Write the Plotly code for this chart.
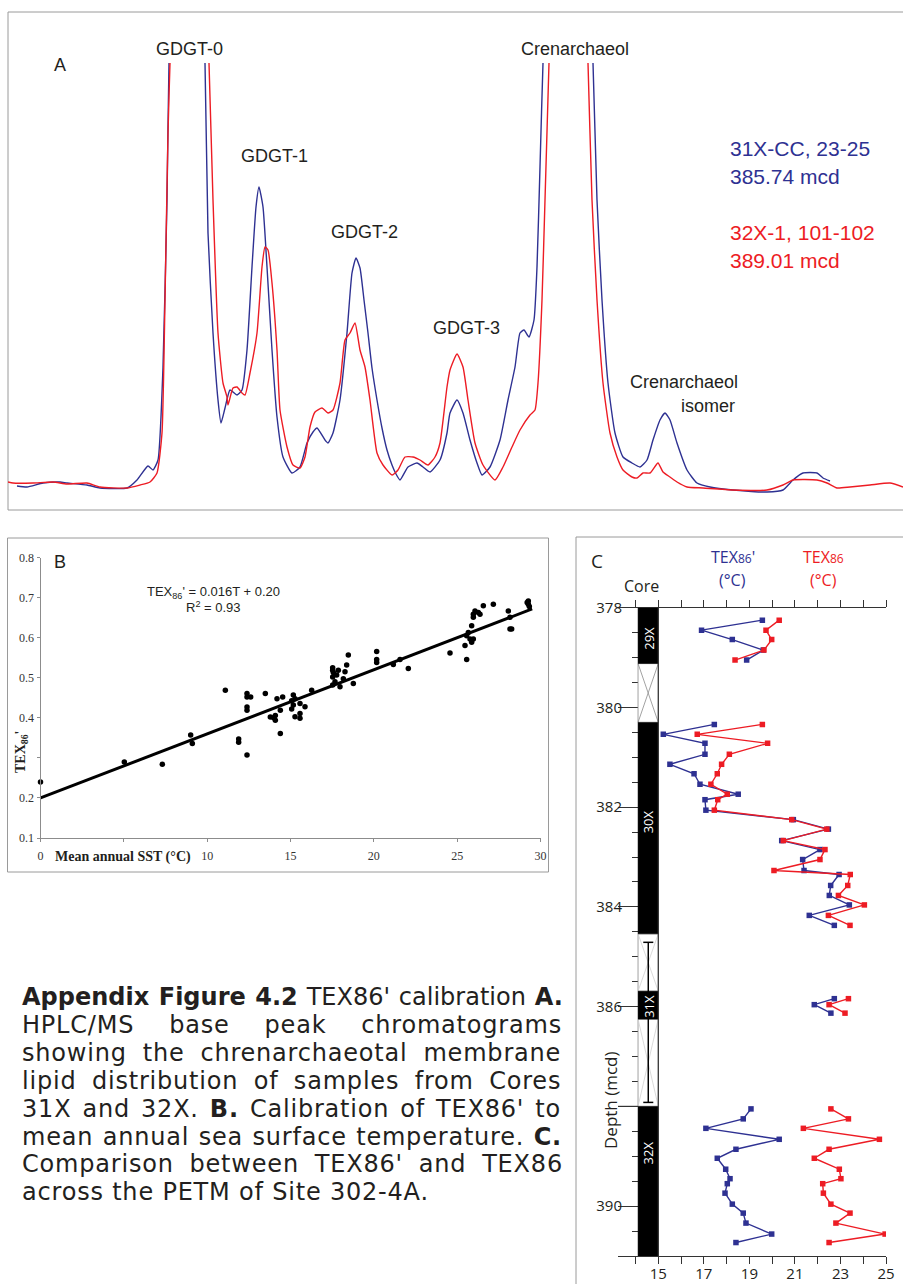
import plotly.graph_objects as go

W, H = 903, 1284
BLUE = "#2E3192"
RED = "#ED1C24"
FRAME = "#9a9a9a"
INK = "#231F20"


def fx(px):
    return px / W


def fy(py):
    return 1 - py / H


# ---------------- Panel A: HPLC/MS base peak chromatograms ----------------
# scan position vs. base peak signal (arbitrary units); the two big peaks run off scale
scan_31x = [17, 27, 43, 60, 67, 87, 100, 127, 137, 148, 153, 158, 163, 167, 169, 187, 205, 208, 213, 218,
            221, 225, 230, 237, 242, 247, 252, 256, 259, 263, 267, 272, 277, 283, 292, 300, 307, 313, 317,
            325, 328, 333, 340, 347, 352, 356, 360, 364, 368, 372, 377, 382, 387, 392, 396, 400, 408, 417,
            423, 430, 440, 447, 450, 457, 463, 470, 477, 482, 490, 500, 508, 515, 520, 524, 529, 534, 537,
            540, 543, 568, 593, 597, 602, 608, 615, 623, 632, 640, 647, 653, 660, 665, 670, 677, 687, 697,
            710, 733, 767, 783, 793, 803, 817, 823, 830]
signal_31x = [14, 13, 17, 18, 17, 15, 12, 12, 20, 34, 30, 40, 133, 300, 437, 1000, 437, 267, 167, 100,
              77, 92, 110, 105, 110, 150, 233, 293, 313, 293, 233, 150, 83, 43, 27, 33, 57, 68, 72,
              60, 57, 67, 100, 167, 227, 242, 232, 200, 167, 132, 100, 72, 50, 35, 26, 20, 33, 37,
              33, 28, 40, 67, 87, 100, 87, 60, 37, 25, 33, 60, 100, 133, 167, 170, 163, 180, 233,
              333, 437, 1100, 437, 300, 200, 117, 67, 43, 37, 33, 40, 60, 80, 87, 80, 57, 30, 17,
              13, 10, 8, 10, 20, 27, 27, 22, 19]

scan_32x = [8, 13, 33, 53, 67, 87, 100, 127, 140, 150, 157, 162, 165, 168, 170, 190, 209, 213, 218, 223,
            227, 228, 233, 237, 242, 245, 250, 257, 262, 265, 268, 272, 277, 280, 287, 293, 300, 305, 310,
            315, 322, 328, 333, 340, 345, 350, 355, 360, 365, 370, 377, 383, 392, 398, 405, 413, 420, 428,
            435, 440, 447, 450, 457, 463, 468, 475, 483, 495, 503, 512, 520, 530, 535, 538, 542, 545, 549,
            568, 588, 592, 597, 603, 610, 617, 623, 632, 637, 643, 650, 658, 663, 670, 677, 687, 703, 733,
            767, 783, 793, 817, 827, 837, 850, 870, 890, 903]
signal_32x = [18, 17, 17, 18, 16, 17, 13, 12, 15, 18, 27, 67, 200, 367, 437, 1000, 437, 300, 167, 117,
              103, 95, 112, 113, 107, 105, 127, 167, 233, 253, 250, 217, 150, 90, 53, 35, 32, 43, 73,
              88, 92, 87, 90, 117, 160, 167, 177, 150, 133, 100, 47, 35, 25, 30, 43, 43, 40, 35,
              43, 57, 113, 130, 146, 133, 100, 57, 35, 20, 33, 53, 70, 85, 90, 117, 200, 300, 437,
              1100, 437, 300, 200, 117, 67, 43, 30, 23, 22, 27, 27, 37, 28, 23, 18, 13, 12, 10,
              10, 15, 20, 20, 17, 12, 13, 15, 17, 13]

peak_names = ["GDGT-0", "GDGT-1", "GDGT-2", "GDGT-3", "Crenarchaeol"]

# ---------------- Panel B: TEX86' core-top calibration ----------------
sst = [0.0, 5.03, 7.31, 9.01, 9.11, 11.09, 11.89, 11.89, 12.39, 12.39, 12.39, 12.39, 12.39, 12.61,
       13.49, 13.79, 13.99, 14.09, 14.09, 14.19, 14.39, 14.39, 14.53, 15.07, 15.17, 15.27, 15.17, 15.57,
       15.87, 15.07, 15.27, 15.57, 15.57, 16.27, 17.53, 17.53, 17.57, 17.53, 17.67, 17.53, 17.77, 17.87,
       17.97, 18.17, 18.27, 18.37, 18.47, 18.77, 20.17, 20.17, 20.17, 21.17, 21.57, 22.07, 24.57, 25.47,
       25.57, 25.57, 25.67, 25.77, 25.87, 25.97, 25.87, 25.97, 25.97, 26.07, 26.27, 26.37, 26.57, 27.17,
       28.07, 28.17, 28.17, 28.27, 29.27, 29.27, 29.33, 29.20]
tex86p = [0.240, 0.290, 0.284, 0.357, 0.336, 0.469, 0.347, 0.339, 0.307, 0.461, 0.452, 0.427, 0.419, 0.452,
          0.461, 0.402, 0.400, 0.406, 0.394, 0.448, 0.361, 0.419, 0.452, 0.443, 0.457, 0.448, 0.432, 0.436,
          0.428, 0.422, 0.403, 0.411, 0.399, 0.469, 0.525, 0.519, 0.513, 0.502, 0.490, 0.482, 0.507, 0.519,
          0.478, 0.498, 0.515, 0.532, 0.557, 0.486, 0.566, 0.546, 0.538, 0.533, 0.546, 0.523, 0.562, 0.581,
          0.546, 0.605, 0.613, 0.597, 0.589, 0.597, 0.630, 0.651, 0.659, 0.667, 0.663, 0.659, 0.680, 0.684,
          0.667, 0.651, 0.622, 0.622, 0.692, 0.684, 0.678, 0.688]
fit_slope, fit_intercept = 0.016, 0.20
fit_sst = [0.0, 29.5]
fit_tex = [fit_slope * t + fit_intercept for t in fit_sst]
sst_labels = [0, 10, 15, 20, 25, 30]          # 5 is left unlabelled (axis title sits there)
tex_labels = [0.1, 0.2, 0.4, 0.5, 0.6, 0.7, 0.8]  # 0.3 is left unlabelled (axis title sits there)

# ---------------- Panel C: TEX86' and TEX86 temperatures, Site 302-4A ----------------
depth_29x = [378.25, 378.45, 378.64, 378.85, 379.05]
tex86p_29x = [19.57, 16.90, 18.25, 19.61, 18.88]
tex86_29x = [20.31, 19.73, 19.98, 19.64, 18.37]

depth_30x = [380.34, 380.54, 380.72, 380.94, 381.14, 381.33, 381.54, 381.74, 381.85, 382.06, 382.25,
             382.44, 382.67, 382.85, 383.05, 383.27, 383.35, 383.57, 383.77, 383.96, 384.17, 384.37]
tex86p_30x = [17.46, 15.22, 17.05, 17.05, 15.51, 16.57, 16.83, 18.51, 17.05, 17.09, 20.93,
              22.47, 20.42, 22.10, 21.34, 21.40, 22.94, 22.57, 22.51, 23.39, 21.63, 22.73]
tex86_30x = [19.57, 16.71, 19.80, 18.12, 17.78, 17.59, 17.31, 18.03, 17.61, 17.46, 20.86,
             22.40, 20.49, 22.32, 22.10, 20.08, 23.43, 23.32, 22.91, 24.05, 22.47, 23.42]

depth_31x = [385.84, 385.96, 386.13]
tex86p_31x = [22.73, 21.85, 22.58]
tex86_31x = [23.35, 22.50, 23.20]

depth_32x = [388.05, 388.25, 388.44, 388.66, 388.86, 389.04, 389.26, 389.45, 389.55, 389.74, 389.96,
             390.14, 390.34, 390.56, 390.73]
tex86p_32x = [19.07, 18.73, 17.09, 20.31, 18.41, 17.59, 17.96, 18.15, 18.03, 17.93, 18.25,
              18.73, 18.85, 19.98, 18.41]
tex86_32x = [22.58, 23.35, 21.37, 24.71, 22.50, 21.85, 22.95, 23.02, 22.22, 22.25, 22.58,
             23.42, 22.80, 24.96, 22.50]

core_names = ["29X", "30X", "31X", "32X"]
core_top = [378.0, 380.30, 385.69, 388.0]
core_base = [379.12, 384.54, 386.25, 391.0]
core_label_depth = [378.62, 382.30, 386.0, 388.94]
gap_top = [379.12, 384.54, 386.25]
gap_base = [380.30, 385.69, 388.0]
range_bar = [384.71, 387.92]

temp_labels = [15, 17, 19, 21, 23, 25]
depth_labels = [378, 380, 382, 384, 386, 390]   # 388 is left unlabelled (axis title sits there)
depth_unlabelled = [388]

# ======================================================================
fig = go.Figure()

# Panel A traces (smoothed chromatogram traces)
fig.add_trace(go.Scatter(x=scan_31x, y=signal_31x, mode="lines", xaxis="x", yaxis="y",
                         line=dict(color=BLUE, width=1.4, shape="spline", smoothing=0.5), hoverinfo="skip"))
fig.add_trace(go.Scatter(x=scan_32x, y=signal_32x, mode="lines", xaxis="x", yaxis="y",
                         line=dict(color=RED, width=1.4, shape="spline", smoothing=0.5), hoverinfo="skip"))

# Panel B traces
fig.add_trace(go.Scatter(x=fit_sst, y=fit_tex, mode="lines", xaxis="x2", yaxis="y2",
                         line=dict(color="black", width=3), hoverinfo="skip"))
fig.add_trace(go.Scatter(x=sst, y=tex86p, mode="markers", xaxis="x2", yaxis="y2", cliponaxis=False,
                         marker=dict(color="black", size=5.5), hoverinfo="skip"))

# Panel C traces
for d, tp, t in [(depth_29x, tex86p_29x, tex86_29x), (depth_30x, tex86p_30x, tex86_30x),
                 (depth_31x, tex86p_31x, tex86_31x), (depth_32x, tex86p_32x, tex86_32x)]:
    fig.add_trace(go.Scatter(x=tp, y=d, mode="lines+markers", xaxis="x3", yaxis="y3",
                             line=dict(color=BLUE, width=1.4),
                             marker=dict(symbol="square", size=5.5, color=BLUE)))
    fig.add_trace(go.Scatter(x=t, y=d, mode="lines+markers", xaxis="x3", yaxis="y3",
                             line=dict(color=RED, width=1.4),
                             marker=dict(symbol="square", size=5.5, color=RED)))

shapes = []
annotations = []

# Panel frames
for (x0, y0, x1, y1) in [(8, 12, 912, 510), (7.5, 538, 548.5, 872), (576, 537, 912, 1300)]:
    shapes.append(dict(type="rect", xref="paper", yref="paper", x0=fx(x0), x1=fx(x1), y0=fy(y0), y1=fy(y1),
                       line=dict(color=FRAME, width=1), fillcolor="rgba(0,0,0,0)", layer="below"))

# Core column (panel C)
x_left = 13.23
col_l, col_r = 14.11, 15.0
for g0, g1, xc in zip(gap_top, gap_base, ["#8a8a8a", "#d0d0d0", "#d0d0d0"]):
    shapes.append(dict(type="rect", xref="x3", yref="y3", x0=col_l, x1=col_r, y0=g0, y1=g1,
                       fillcolor="white", line=dict(color="#8a8a8a", width=0.8)))
    shapes.append(dict(type="line", xref="x3", yref="y3", x0=col_l, x1=col_r, y0=g0, y1=g1,
                       line=dict(color=xc, width=0.8)))
    shapes.append(dict(type="line", xref="x3", yref="y3", x0=col_l, x1=col_r, y0=g1, y1=g0,
                       line=dict(color=xc, width=0.8)))
bar_x = 14.56
shapes.append(dict(type="line", xref="x3", yref="y3", x0=bar_x, x1=bar_x, y0=range_bar[0], y1=range_bar[1],
                   line=dict(color="black", width=1.5)))
for yb in range_bar:
    shapes.append(dict(type="line", xref="x3", yref="y3", x0=bar_x - 0.22, x1=bar_x + 0.22, y0=yb, y1=yb,
                       line=dict(color="black", width=1.5)))
for c0, c1 in zip(core_top, core_base):
    shapes.append(dict(type="rect", xref="x3", yref="y3", x0=col_l, x1=col_r, y0=c0, y1=c1,
                       fillcolor="black", line=dict(color="black", width=0.5)))
shapes.append(dict(type="line", xref="x3", yref="y3", x0=15, x1=15, y0=378, y1=391,
                   line=dict(color="#333333", width=1.2)))
for dv in depth_unlabelled:
    shapes.append(dict(type="line", xref="x3", yref="y3", x0=x_left, x1=col_l, y0=dv, y1=dv,
                       line=dict(color="#333333", width=1.2)))
for name, dl in zip(core_names, core_label_depth):
    annotations.append(dict(xref="x3", yref="y3", x=(col_l + col_r) / 2, y=dl, text=name, textangle=-90,
                            showarrow=False, font=dict(family="Open Sans", size=13, color="white")))

# Panel A labels
fa = dict(family="Liberation Sans", size=18, color=INK)


def label(x, y, text, font, xanchor="center", yanchor="middle", angle=0):
    annotations.append(dict(xref="paper", yref="paper", x=fx(x), y=fy(y), text=text, showarrow=False,
                            xanchor=xanchor, yanchor=yanchor, font=font, textangle=angle))


label(60, 65, "A", fa)
for name, (lx, ly) in zip(peak_names, [(189, 49), (274, 156), (364, 232), (466, 328), (575, 49)]):
    label(lx, ly, name, fa)
label(684, 382, "Crenarchaeol", fa)
label(737, 406, "isomer", fa, xanchor="right")
fl_b = dict(family="Liberation Sans", size=21, color=BLUE)
fl_r = dict(family="Liberation Sans", size=21, color=RED)
label(728, 148, "31X-CC, 23-25", fl_b, xanchor="left")
label(728, 176, "385.74 mcd", fl_b, xanchor="left")
label(728, 232, "32X-1, 101-102", fl_r, xanchor="left")
label(728, 260, "389.01 mcd", fl_r, xanchor="left")

# Panel B labels
label(60, 562, "B", fa)
feq = dict(family="Liberation Sans", size=13, color=INK)
label(213, 592, "TEX<sub>86</sub>' = %.3fT + %.2f" % (fit_slope, fit_intercept), feq)
label(213, 607, "R<sup>2</sup> = 0.93", feq)
fser = dict(family="Liberation Serif", size=14, color=INK)
label(123, 857, "<b>Mean annual SST (°C)</b>", fser)
label(22, 752, "<b>TEX<sub>86</sub>'</b>", fser, angle=-90)

# Panel C labels
fc = dict(family="Open Sans", size=16, color=INK)
label(597, 561, "C", dict(family="Open Sans", size=19, color=INK))
label(641, 586, "Core", fc)
label(733, 557, "TEX<span style=\"font-size:12px\">86</span>'", dict(family="Open Sans", size=16, color=BLUE))
label(732, 580, "(°C)", dict(family="Open Sans", size=16, color=BLUE))
label(823, 557, "TEX<span style=\"font-size:12px\">86</span>", dict(family="Open Sans", size=16, color=RED))
label(823, 580, "(°C)", dict(family="Open Sans", size=16, color=RED))
label(610, 1100, "Depth (mcd)", dict(family="Open Sans", size=17, color=INK), angle=-90)

# Caption (justified by widening letter and word spacing)
caption_lines = [
    ("<b>Appendix Figure 4.2</b> TEX86' calibration <b>A.</b>", 0.0, 1.2),
    ("HPLC/MS base peak chromatograms", 0.8, 26.5),
    ("showing the chrenarchaeotal membrane", 0.8, 7.5),
    ("lipid distribution of samples from Cores", 0.8, 7.0),
    ("31X and 32X. <b>B.</b> Calibration of TEX86' to", 0.8, 2.6),
    ("mean annual sea surface temperature. <b>C.</b>", 0.8, 1.0),
    ("Comparison between TEX86' and TEX86", 0.8, 7.4),
    ("across the PETM of Site 302-4A.", 0.8, 0.0),
]
fcap = dict(family="DejaVu Sans", size=24, color=INK)
for i, (txt, ls, ws) in enumerate(caption_lines):
    label(20, 997 + 27.9 * i,
          "<span style=\"letter-spacing:%.1fpx;word-spacing:%.1fpx\">%s</span>" % (ls, ws, txt), fcap,
          xanchor="left")

axis_off = dict(visible=False, showgrid=False, zeroline=False, automargin=False)
serif_ticks = dict(family="Liberation Serif", size=12, color="#333333")
fig.update_layout(
    width=W, height=H, margin=dict(l=0, r=0, t=0, b=0, pad=0, autoexpand=False),
    paper_bgcolor="white", plot_bgcolor="rgba(0,0,0,0)", showlegend=False,
    xaxis=dict(domain=[fx(8), 1.0], range=[8, 903], anchor="y", **axis_off),
    yaxis=dict(domain=[fy(510), fy(63)], range=[-10, 437], anchor="x", **axis_off),
    xaxis2=dict(domain=[fx(40.5), fx(540.5)], range=[0, 30], anchor="y2", tickvals=sst_labels,
                showline=True, linecolor="#8c8c8c", linewidth=1, ticks="outside", automargin=False,
                ticklen=3, tickcolor="#8c8c8c", showgrid=False, zeroline=False, ticklabelstandoff=4,
                minor=dict(dtick=5, tick0=0, ticks="outside", ticklen=3, tickcolor="#8c8c8c"),
                tickfont=serif_ticks),
    yaxis2=dict(domain=[fy(838), fy(557.7)], range=[0.1, 0.8], anchor="x2", tickvals=tex_labels,
                tickformat=".1f", showline=True, linecolor="#8c8c8c", linewidth=1, ticks="outside", ticklen=3,
                tickcolor="#8c8c8c", showgrid=False, zeroline=False, automargin=False,
                minor=dict(dtick=0.1, tick0=0.1, ticks="outside", ticklen=3, tickcolor="#8c8c8c"),
                tickfont=serif_ticks),
    xaxis3=dict(domain=[fx(618), fx(886)], range=[x_left, 25], anchor="y3", tickvals=temp_labels,
                showline=True, mirror="ticks", linecolor="#333333", linewidth=1.2, automargin=False,
                ticks="outside", ticklen=7, tickcolor="#333333", showgrid=False, zeroline=False,
                ticklabelstandoff=-3,
                minor=dict(dtick=1, tick0=15, ticks="outside", ticklen=7, tickcolor="#333333"),
                tickfont=dict(family="Open Sans", size=15, color=INK)),
    yaxis3=dict(domain=[fy(1256), fy(607.7)], range=[391, 378], anchor="free", position=fx(638),
                tickvals=depth_labels, showline=False, ticks="outside", ticklen=20, tickcolor="#333333",
                tickwidth=1.2, showgrid=False, zeroline=False, ticklabelstandoff=-7, automargin=False,
                minor=dict(dtick=0.5, tick0=378, ticks="outside", ticklen=6, tickcolor="#333333"),
                tickfont=dict(family="Open Sans", size=15, color=INK)),
    shapes=shapes, annotations=annotations,
)

fig.write_html("out.html")
